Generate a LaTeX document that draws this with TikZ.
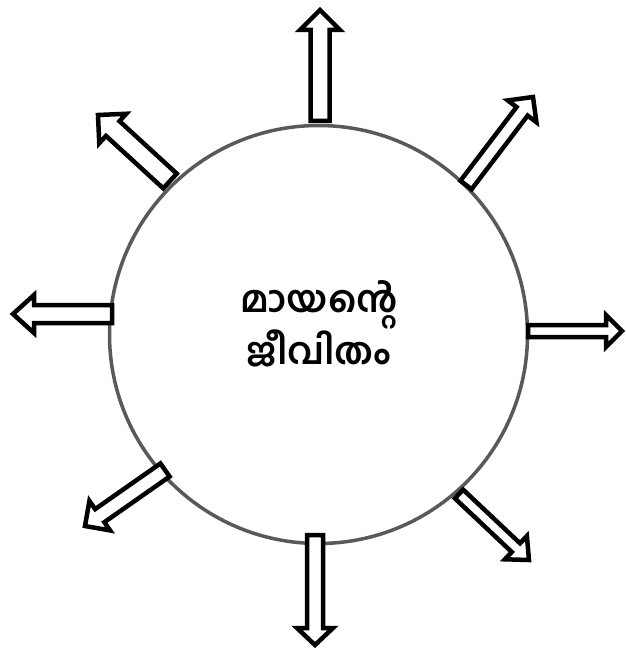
\documentclass[tikz,border=0pt]{standalone}
\usepackage{fontspec}
\newfontfamily\mlfont[Script=Malayalam]{Hind Kochi}
\usetikzlibrary{calc}
\newcommand{\blkarrow}[5]{%
  \coordinate (N) at ($(#2)!#5!(#1)$);
  \draw[arrowline] ($(#1)!#3!90:(#2)$) -- ($(N)!#3!90:(#2)$) -- ($(N)!#4!90:(#2)$) -- (#2) -- ($(N)!#4!-90:(#2)$) -- ($(N)!#3!-90:(#2)$) -- ($(#1)!#3!-90:(#2)$) -- cycle;}
\begin{document}
\begin{tikzpicture}[x=1pt,y=-1pt,
  arrowline/.style={draw=black,fill=white,line width=4.5pt,miter limit=10},
  ring/.style={draw=black!65,line width=3.5pt},
  titletext/.style={font=\mlfont\bfseries\fontsize{37}{50}\selectfont,align=center,text=black}]
\useasboundingbox (0,0) rectangle (625,650);
\fill[white] (0,0) rectangle (625,650);
\node[ring,circle,minimum size=418pt,inner sep=0pt] (c) at (318.5,334.5) {};
\node[titletext] (t) at (319,324) {മായന്റെ\\ജീവിതം};
\coordinate (b1) at (320,121); \coordinate (t1) at (320,10);
\coordinate (b2) at (466,185); \coordinate (t2) at (533,97);
\coordinate (b3) at (528,331); \coordinate (t3) at (622,331);
\coordinate (b4) at (459,494); \coordinate (t4) at (529,560);
\coordinate (b5) at (315,535); \coordinate (t5) at (315,645);
\coordinate (b6) at (165,470); \coordinate (t6) at (85,526);
\coordinate (b7) at (112,314); \coordinate (t7) at (13,314);
\coordinate (b8) at (170,181); \coordinate (t8) at (98,115);
\blkarrow{b1}{t1}{9.5pt}{20pt}{20pt}
\blkarrow{b2}{t2}{7pt}{18pt}{18pt}
\blkarrow{b3}{t3}{6pt}{16pt}{16pt}
\blkarrow{b4}{t4}{6pt}{16pt}{18pt}
\blkarrow{b5}{t5}{8pt}{18pt}{17pt}
\blkarrow{b6}{t6}{8pt}{18pt}{18pt}
\blkarrow{b7}{t7}{9pt}{19pt}{21pt}
\blkarrow{b8}{t8}{10pt}{20pt}{20pt}
\end{tikzpicture}
\end{document}
